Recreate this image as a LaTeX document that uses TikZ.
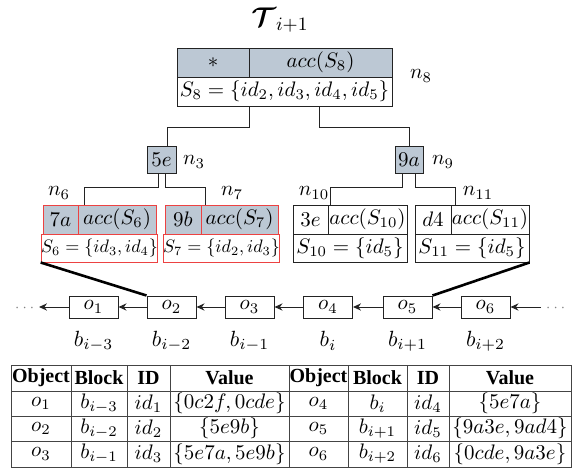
\RequirePackage{fix-cm}
\documentclass[tikz,border=0pt]{standalone}
\usepackage{fontspec}
\usepackage{amsmath}
\usepackage{graphicx}
\newfontfamily\tabfont{Liberation Serif}
\usetikzlibrary{arrows.meta}
\definecolor{gb}{RGB}{188,200,212}
\definecolor{rd}{RGB}{236,66,66}
\definecolor{ln}{RGB}{35,35,35}
\newcommand\tc[7]{%
  \pgfmathsetmacro\tcw{(#3-#2)/2}\pgfmathsetmacro\tch{(#5-#4)/2}%
  \node[#1, minimum width=\tcw pt, minimum height=\tch pt] (#6) at ({(#2+#3)/2},{(#4+#5)/2}) {#7};}
\newcommand\mytitlefont{\fontsize{13.5}{16}\selectfont}
\newcommand\mybasefont{\fontsize{10.5}{12.6}\selectfont}
\newcommand\mylabfont{\fontsize{11}{13}\selectfont}
\newcommand\myhdfont{\tabfont\bfseries\fontsize{10}{12}\selectfont}
\begin{document}
\begin{tikzpicture}[x=0.5pt,y=-0.5pt, font=\mybasefont,
  box/.style={draw=ln, line width=0.5pt, inner sep=0pt},
  gcell/.style={box, fill=gb},
  rcell/.style={draw=rd, line width=0.5pt, inner sep=0pt},
  rgcell/.style={rcell, fill=gb},
  conn/.style={draw=ln, line width=0.5pt},
  heavy/.style={draw=black, line width=1.3pt},
  arr/.style={draw=ln, line width=0.5pt, -{Stealth[length=4pt,width=3.6pt]}},
  obj/.style={box, minimum width=24.5pt, minimum height=11pt},
  tcell/.style={draw=ln!85, line width=0.5pt, inner sep=0pt},
  hd/.style={tcell, font=\myhdfont},
  lab/.style={inner sep=0pt},
  dotlab/.style={inner sep=0pt, text=gray, font=\scriptsize}]
\useasboundingbox (0,0) rectangle (574,472);

% root n8
\tc{gcell}{177}{249}{48}{77}{rootA}{$*$}
\tc{gcell}{249}{392}{48}{77}{rootB}{$acc(S_8)$}
\tc{box}{177}{392}{77}{106}{rootC}{$S_8=\{id_2,id_3,id_4,id_5\}$}
\node[lab] (l8) at (421,76) {$n_8$};

% n3, n9
\tc{gcell}{147}{176}{146}{173}{n3}{$5e$}
\tc{gcell}{395}{423}{146}{173}{n9}{$9a$}
\node[lab] (l3) at (194,162) {$n_3$};
\node[lab] (l9) at (443,162) {$n_9$};

% n6
\tc{rgcell}{43}{78}{205}{234}{n6a}{$7a$}
\tc{rgcell}{78}{156}{205}{234}{n6b}{$acc(S_6)$}
\tc{rcell}{43}{156}{234}{262}{n6c}{\scalebox{0.86}{$S_6=\{id_3,id_4\}$}}
% n7
\tc{rgcell}{165}{201}{205}{234}{n7a}{$9b$}
\tc{rgcell}{201}{278}{205}{234}{n7b}{$acc(S_7)$}
\tc{rcell}{165}{278}{234}{262}{n7c}{\scalebox{0.86}{$S_7=\{id_2,id_3\}$}}
% n10
\tc{box}{293}{328}{205}{234}{n10a}{$3e$}
\tc{box}{328}{407}{205}{234}{n10b}{$acc(S_{10})$}
\tc{box}{293}{407}{234}{262}{n10c}{$S_{10}=\{id_5\}$}
% n11
\tc{box}{415}{451}{205}{234}{n11a}{$d4$}
\tc{box}{451}{529}{205}{234}{n11b}{$acc(S_{11})$}
\tc{box}{415}{529}{234}{262}{n11c}{$S_{11}=\{id_5\}$}

\node[lab] (l6) at (59,193) {$n_6$};
\node[lab] (l7) at (232,193) {$n_7$};
\node[lab] (l10) at (314,193) {$n_{10}$};
\node[lab] (l11) at (478,193) {$n_{11}$};

% tree connectors
\draw[conn] (rootA.east |- rootC.south) -- ++(0,21) -| ([xshift=2.75pt]n3.north);
\draw[conn] ([xshift=-0.75pt]rootB.center |- rootC.south) -- ++(0,21) -| (n9.north);
\draw[conn] ([xshift=-1.75pt]n3.south) -- ++(0,14) -| ([xshift=3.5pt]n6b.north west);
\draw[conn] ([xshift=1.75pt]n3.south) -- ++(0,14) -| ([xshift=2.5pt]n7b.north west);
\draw[conn] ([xshift=-3.25pt]n9.south) -- ++(0,14) -| ([xshift=1.5pt]n10b.north west);
\draw[conn] ([xshift=3.25pt]n9.south) -- ++(0,14) -| ([xshift=2.5pt]n11b.north west);

% chain
\node[obj] (o1) at (93.5,307) {$o_1$};
\node[obj] (o2) at (171.5,307) {$o_2$};
\node[obj] (o3) at (249.5,307) {$o_3$};
\node[obj] (o4) at (328,307) {$o_4$};
\node[obj] (o5) at (407.5,307) {$o_5$};
\node[obj] (o6) at (485.5,307) {$o_6$};
\coordinate (lend) at (39,307);
\coordinate (rstart) at (541,307);
\node[dotlab] (ldots) at (26,308) {$\cdots$};
\node[dotlab] (rdots) at (557,308) {$\cdots$};
\draw[arr] (o1) -- (lend);
\draw[arr] (o2) -- (o1);
\draw[arr] (o3) -- (o2);
\draw[arr] (o4) -- (o3);
\draw[arr] (o5) -- (o4);
\draw[arr] (o6) -- (o5);
\draw[arr] (rstart) -- (o6);

\draw[heavy] (n6c.south west) -- (o2.north west);
\draw[heavy] (n11c.south east) -- (o5.north east);

\begin{scope}[every node/.style={lab, font=\mylabfont}]
\node (b1) at (93.5,341) {$b_{i-3}$};
\node (b2) at (171.5,341) {$b_{i-2}$};
\node (b3) at (249.5,341) {$b_{i-1}$};
\node (b4) at (328,341) {$b_{i}$};
\node (b5) at (407.5,341) {$b_{i+1}$};
\node (b6) at (485.5,341) {$b_{i+2}$};
\end{scope}

% table
\tc{hd}{11}{71}{365}{391}{h1}{Object}
\tc{hd}{71}{127}{365}{391}{h2}{Block}
\tc{hd}{127}{170}{365}{391}{h3}{ID}
\tc{hd}{170}{289}{365}{391}{h4}{Value}
\tc{hd}{289}{348}{365}{391}{h5}{Object}
\tc{hd}{348}{407}{365}{391}{h6}{Block}
\tc{hd}{407}{449}{365}{391}{h7}{ID}
\tc{hd}{449}{571}{365}{391}{h8}{Value}

\tc{tcell}{11}{71}{391}{416}{a1}{$o_1$}
\tc{tcell}{71}{127}{391}{416}{a2}{$b_{i-3}$}
\tc{tcell}{127}{170}{391}{416}{a3}{$id_1$}
\tc{tcell}{170}{289}{391}{416}{a4}{$\{0c2f,0cde\}$}
\tc{tcell}{289}{348}{391}{416}{a5}{$o_4$}
\tc{tcell}{348}{407}{391}{416}{a6}{$b_i$}
\tc{tcell}{407}{449}{391}{416}{a7}{$id_4$}
\tc{tcell}{449}{571}{391}{416}{a8}{$\{5e7a\}$}

\tc{tcell}{11}{71}{416}{441}{c1}{$o_2$}
\tc{tcell}{71}{127}{416}{441}{c2}{$b_{i-2}$}
\tc{tcell}{127}{170}{416}{441}{c3}{$id_2$}
\tc{tcell}{170}{289}{416}{441}{c4}{$\{5e9b\}$}
\tc{tcell}{289}{348}{416}{441}{c5}{$o_5$}
\tc{tcell}{348}{407}{416}{441}{c6}{$b_{i+1}$}
\tc{tcell}{407}{449}{416}{441}{c7}{$id_5$}
\tc{tcell}{449}{571}{416}{441}{c8}{$\{9a3e,9ad4\}$}

\tc{tcell}{11}{71}{441}{467}{d1}{$o_3$}
\tc{tcell}{71}{127}{441}{467}{d2}{$b_{i-1}$}
\tc{tcell}{127}{170}{441}{467}{d3}{$id_3$}
\tc{tcell}{170}{289}{441}{467}{d4}{$\{5e7a,5e9b\}$}
\tc{tcell}{289}{348}{441}{467}{d5}{$o_6$}
\tc{tcell}{348}{407}{441}{467}{d6}{$b_{i+2}$}
\tc{tcell}{407}{449}{441}{467}{d7}{$id_6$}
\tc{tcell}{449}{571}{441}{467}{d8}{$\{0cde,9a3e\}$}

% title
\node[lab] (title) at (280,20) {\mytitlefont$\boldsymbol{\mathcal{T}}_{i+1}$};
\end{tikzpicture}
\end{document}
